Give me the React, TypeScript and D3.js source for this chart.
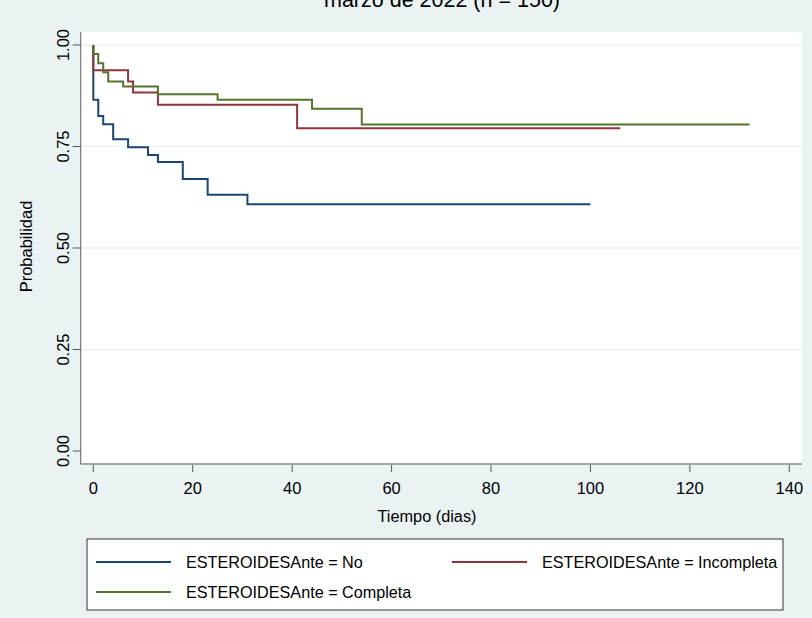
import React from 'react';
import * as d3 from 'd3';

// Kaplan-Meier steps: event times and survival after each event
const noTimes = [0, 1, 2, 4, 7, 11, 13, 18, 23, 31];
const noSurv = [0.865, 0.825, 0.805, 0.768, 0.748, 0.729, 0.712, 0.67, 0.631, 0.608];
const noEnd = 100;

const incTimes = [0, 7, 8, 13, 41];
const incSurv = [0.938, 0.91, 0.883, 0.853, 0.795];
const incEnd = 106;

const compTimes = [0, 1, 2, 3, 6, 13, 25, 44, 54];
const compSurv = [0.978, 0.955, 0.933, 0.91, 0.898, 0.879, 0.865, 0.843, 0.804];
const compEnd = 132;

const xTicks = [0, 20, 40, 60, 80, 100, 120, 140];
const yTicks = [0, 0.25, 0.5, 0.75, 1];
const gridTicks = [0.25, 0.5, 0.75, 1];

const seriesNames = ['ESTEROIDESAnte = No', 'ESTEROIDESAnte = Incompleta', 'ESTEROIDESAnte = Completa'];
const colors = ['#1a476f', '#90353b', '#55752f'];

const W = 812;
const H = 618;
const font = '"Liberation Sans", Arial, sans-serif';

const steps = (times: number[], surv: number[], end: number) => {
  const pts: [number, number][] = [[0, 1]];
  times.forEach((t, i) => pts.push([t, surv[i]]));
  pts.push([end, surv[surv.length - 1]]);
  return pts;
};

const App = () => {
  const x = d3.scaleLinear().domain([0, 140]).range([93.3, 789.3]);
  const y = d3.scaleLinear().domain([0, 1]).range([451, 45]);

  const line = d3
    .line<[number, number]>()
    .x((d) => x(d[0]))
    .y((d) => y(d[1]))
    .curve(d3.curveStepAfter);

  const series = [
    steps(noTimes, noSurv, noEnd),
    steps(incTimes, incSurv, incEnd),
    steps(compTimes, compSurv, compEnd),
  ];

  const left = 80.7;
  const right = 802;
  const top = 32;
  const bottom = 464;

  // legend layout
  const lg = { x0: 87, x1: 783, y0: 539, y1: 610 };
  const legendItems = [
    { lx: 96, ly: 562 },
    { lx: 452, ly: 562 },
    { lx: 96, ly: 592 },
  ];

  return (
    <svg width={W} height={H} style={{ position: 'absolute', left: 0, top: 0 }} fontFamily={font}>
      <rect x={0} y={0} width={W} height={H} fill="#eaf2f3" />
      <text x={442} y={6.5} fontSize={21.5} textAnchor="middle" fill="#000">
        marzo de 2022 (n = 150)
      </text>
      <rect x={left} y={top} width={right - left} height={bottom - top} fill="#fff" />
      {gridTicks.map((t) => (
        <line key={t} x1={left} x2={right} y1={y(t)} y2={y(t)} stroke="#eaf2f3" strokeWidth={1.5} />
      ))}
      {series.map((pts, i) => (
        <path key={i} d={line(pts) || ''} fill="none" stroke={colors[i]} strokeWidth={2} />
      ))}
      {/* axes */}
      <line x1={left} x2={left} y1={top} y2={bottom} stroke="#777" strokeWidth={1.2} />
      <line x1={left} x2={right} y1={bottom} y2={bottom} stroke="#555" strokeWidth={1.2} />
      {yTicks.map((t) => (
        <g key={t}>
          <line x1={left - 8} x2={left} y1={y(t)} y2={y(t)} stroke="#555" strokeWidth={1} />
          <text
            transform={`translate(69,${y(t)}) rotate(-90)`}
            fontSize={16.5}
            textAnchor="middle"
            fill="#000"
          >
            {d3.format('.2f')(t)}
          </text>
        </g>
      ))}
      {xTicks.map((t) => (
        <g key={t}>
          <line x1={x(t)} x2={x(t)} y1={bottom + 1} y2={bottom + 8} stroke="#555" strokeWidth={1} />
          <text x={x(t)} y={494} fontSize={16.5} textAnchor="middle" fill="#000">
            {t}
          </text>
        </g>
      ))}
      <text x={427} y={522} fontSize={16.3} textAnchor="middle" fill="#000">
        Tiempo (dias)
      </text>
      <text
        transform="translate(32,246.5) rotate(-90)"
        fontSize={16.5}
        textAnchor="middle"
        fill="#000"
      >
        Probabilidad
      </text>
      {/* legend */}
      <rect
        x={lg.x0}
        y={lg.y0}
        width={lg.x1 - lg.x0}
        height={lg.y1 - lg.y0}
        fill="#fff"
        stroke="#333"
        strokeWidth={1}
      />
      {legendItems.map((it, i) => (
        <g key={i}>
          <line x1={it.lx} x2={it.lx + 75} y1={it.ly} y2={it.ly} stroke={colors[i]} strokeWidth={2} />
          <text x={it.lx + 90} y={it.ly + 6} fontSize={16.2} fill="#000">
            {seriesNames[i]}
          </text>
        </g>
      ))}
    </svg>
  );
};

export default App;
